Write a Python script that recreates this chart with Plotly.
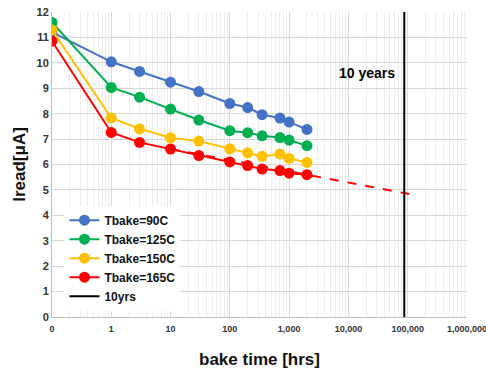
import plotly.graph_objects as go

# bake time in hours (0 is drawn at the axis start, labelled "0")
bake_hours = [0, 1, 3, 10, 30, 100, 200, 350, 700, 1000, 2000]
iread_90c = [11.21, 10.04, 9.66, 9.24, 8.87, 8.40, 8.24, 7.96, 7.83, 7.67, 7.38]
iread_125c = [11.59, 9.03, 8.65, 8.18, 7.75, 7.33, 7.25, 7.13, 7.06, 6.96, 6.74]
iread_150c = [11.29, 7.83, 7.40, 7.05, 6.92, 6.62, 6.46, 6.32, 6.41, 6.24, 6.08]
iread_165c = [10.85, 7.26, 6.87, 6.61, 6.35, 6.10, 5.96, 5.82, 5.76, 5.66, 5.60]

# log trendline of the 165C series (endpoints)
trend_x = [10, 130000]
trend_y = [6.61, 4.80]

ten_years_hours = 87600
ten_years_y = [0, 12]

x_tickvals = [0.1, 1, 10, 100, 1000, 10000, 100000, 1000000]
x_ticktext = ["0", "1", "10", "100", "1,000", "10,000", "100,000", "1,000,000"]
y_tickvals = list(range(0, 13))

ZERO_POS = 0.1
xs = [ZERO_POS if h == 0 else h for h in bake_hours]

FONT = "Liberation Sans, Arial, sans-serif"

fig = go.Figure()

fig.add_trace(go.Scatter(
    x=trend_x, y=trend_y, mode="lines", showlegend=False,
    line=dict(color="#FF0000", width=2, dash="dash"), hoverinfo="skip"))

series = [
    ("Tbake=90C", iread_90c, "#4472C4"),
    ("Tbake=125C", iread_125c, "#00B050"),
    ("Tbake=150C", iread_150c, "#FFC000"),
    ("Tbake=165C", iread_165c, "#FF0000"),
]
for name, ys, col in series:
    fig.add_trace(go.Scatter(
        x=xs, y=ys, mode="lines+markers", name=name,
        line=dict(color=col, width=2),
        marker=dict(color=col, size=11)))

fig.add_trace(go.Scatter(
    x=[ten_years_hours, ten_years_hours], y=ten_years_y, mode="lines",
    name="10yrs", line=dict(color="black", width=2)))

fig.add_annotation(
    x=4.94 - 0.12, y=9.6, xref="x", yref="y", text="<b>10 years</b>",
    showarrow=False, xanchor="right", yanchor="middle",
    font=dict(family=FONT, size=14, color="black"))

minor_vals = [m * 10 ** k for k in range(-1, 6) for m in range(2, 10)]

fig.update_xaxes(
    type="log", range=[-1, 6.0005],
    tickvals=x_tickvals, ticktext=x_ticktext,
    tickfont=dict(family=FONT, size=9, color="#333333", weight="bold"),
    ticklabelstandoff=3, ticklabeloverflow="allow",
    showgrid=True, gridcolor="#D9D9D9", gridwidth=1,
    minor=dict(tickvals=minor_vals, showgrid=True, gridcolor="#EDEDED", gridwidth=1, ticks=""),
    showline=True, linecolor="#BFBFBF", linewidth=1,
    zeroline=False, ticks="", automargin=False,
    title=dict(text="<b>bake time [hrs]</b>", font=dict(family=FONT, size=17, color="#111111"),
               standoff=20),
)
fig.update_yaxes(
    range=[0, 12], tickvals=y_tickvals,
    tickfont=dict(family=FONT, size=11, color="#333333", weight="bold"),
    showgrid=True, gridcolor="#D9D9D9", gridwidth=1,
    showline=True, linecolor="#BFBFBF", linewidth=1,
    zeroline=False, ticks="", automargin=False,
    title=dict(text="<b>Iread[μA]</b>", font=dict(family=FONT, size=17, color="#111111"),
               standoff=6),
)

fig.update_layout(
    width=486, height=370,
    margin=dict(l=52, r=19, t=12, b=53),
    paper_bgcolor="white", plot_bgcolor="white",
    showlegend=True,
    legend=dict(
        x=0.03, y=0.365, xanchor="left", yanchor="top",
        bgcolor="white", borderwidth=0,
        font=dict(family=FONT, size=12, color="#111111", weight="bold"),
        tracegroupgap=0, itemwidth=30,
    ),
)

fig.write_html("out.html")
